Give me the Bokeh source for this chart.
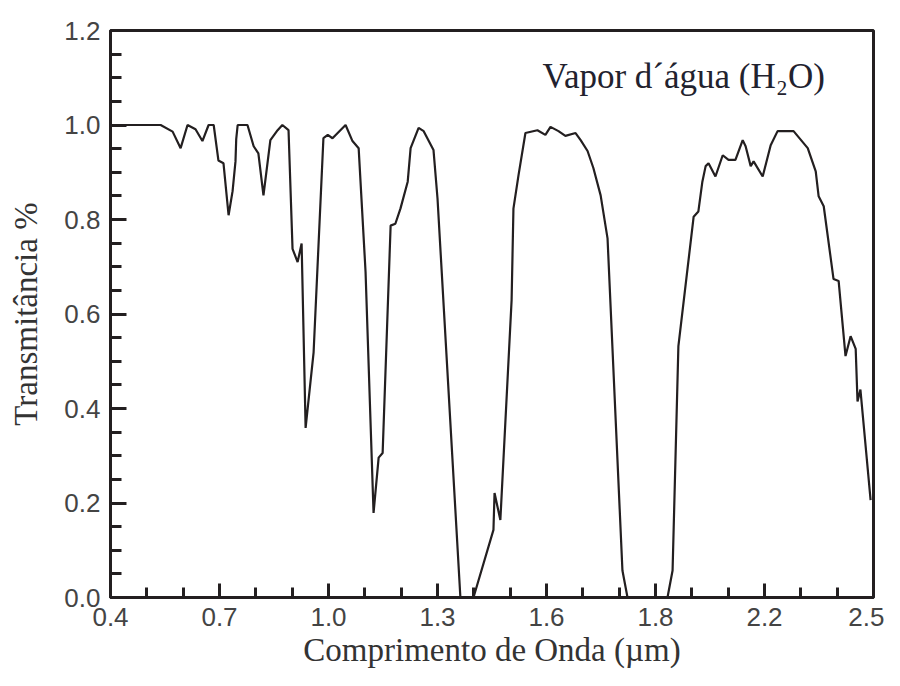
from bokeh.plotting import figure
from bokeh.models import Range1d, FixedTicker, Label
from bokeh.embed import file_html
from bokeh.resources import INLINE

# Wavelength (µm) and transmittance
wavelength = [0.400, 0.538, 0.571, 0.593, 0.612, 0.634, 0.653, 0.670, 0.684, 0.697,
              0.711, 0.725, 0.736, 0.744, 0.746, 0.750, 0.777, 0.794, 0.807, 0.821,
              0.840, 0.860, 0.873, 0.890, 0.901, 0.915, 0.926, 0.937, 0.959, 0.986,
              0.998, 1.011, 1.047, 1.066, 1.083, 1.102, 1.124, 1.138, 1.149, 1.171,
              1.184, 1.198, 1.218, 1.226, 1.248, 1.262, 1.289, 1.300, 1.363, 1.399,
              1.454, 1.457, 1.473, 1.504, 1.509, 1.523, 1.542, 1.575, 1.597, 1.611,
              1.633, 1.652, 1.680, 1.694, 1.713, 1.729, 1.749, 1.768, 1.809, 1.823,
              1.933, 1.947, 1.963, 2.005, 2.018, 2.029, 2.038, 2.046, 2.065, 2.085,
              2.101, 2.120, 2.140, 2.148, 2.162, 2.170, 2.195, 2.217, 2.236, 2.280,
              2.319, 2.341, 2.349, 2.363, 2.390, 2.404, 2.423, 2.437, 2.451, 2.456,
              2.464, 2.492]
transmittance = [1.000, 1.000, 0.986, 0.951, 1.000, 0.991, 0.966, 1.000, 1.000, 0.925,
                 0.919, 0.809, 0.860, 0.923, 0.970, 1.000, 1.000, 0.955, 0.940, 0.851,
                 0.968, 0.989, 1.000, 0.989, 0.738, 0.710, 0.749, 0.359, 0.519, 0.972,
                 0.979, 0.972, 1.000, 0.966, 0.951, 0.689, 0.179, 0.296, 0.306, 0.787,
                 0.791, 0.823, 0.880, 0.951, 0.994, 0.987, 0.947, 0.845, 0.000, 0.000,
                 0.143, 0.221, 0.164, 0.630, 0.823, 0.894, 0.983, 0.989, 0.979, 0.996,
                 0.987, 0.977, 0.983, 0.968, 0.945, 0.909, 0.851, 0.760, 0.057, 0.000,
                 0.000, 0.057, 0.532, 0.806, 0.817, 0.880, 0.913, 0.919, 0.891, 0.936,
                 0.926, 0.926, 0.968, 0.955, 0.913, 0.923, 0.891, 0.957, 0.987, 0.987,
                 0.951, 0.902, 0.849, 0.828, 0.674, 0.670, 0.511, 0.553, 0.526, 0.415,
                 0.440, 0.206]

x_ticks = [0.4, 0.7, 1.0, 1.3, 1.6, 1.9, 2.2, 2.5]
x_tick_labels = ["0.4", "0.7", "1.0", "1.3", "1.6", "1.8", "2.2", "2.5"]
x_minor = [0.5, 0.6, 0.8, 0.9, 1.1, 1.2, 1.4, 1.5, 1.7, 1.8, 2.0, 2.1, 2.3, 2.4]
y_ticks = [0.0, 0.2, 0.4, 0.6, 0.8, 1.0, 1.2]
y_tick_labels = ["0.0", "0.2", "0.4", "0.6", "0.8", "1.0", "1.2"]
y_minor = [0.05, 0.1, 0.15, 0.25, 0.3, 0.35, 0.45, 0.5, 0.55, 0.65, 0.7, 0.75,
           0.85, 0.9, 0.95, 1.05, 1.1, 1.15]

title_text = "Vapor d´água (H₂O)"
x_label = "Comprimento de Onda (µm)"
y_label = "Transmitância %"

INK = "#231f20"

p = figure(width=884, height=670, output_backend="svg", toolbar_location=None,
           x_range=Range1d(0.4, 2.5), y_range=Range1d(0.0, 1.2),
           min_border_left=110, min_border_right=11, min_border_top=30,
           min_border_bottom=60)
p.background_fill_color = "white"
p.border_fill_color = "white"
p.grid.visible = False
p.outline_line_color = INK
p.outline_line_width = 3

p.line(wavelength, transmittance, line_color=INK, line_width=2.2)

for ax in (p.xaxis[0], p.yaxis[0]):
    ax.axis_line_color = INK
    ax.axis_line_width = 3
    ax.major_tick_line_color = INK
    ax.minor_tick_line_color = INK
    ax.major_tick_line_width = 3
    ax.minor_tick_line_width = 3
    ax.major_tick_out = 0
    ax.minor_tick_out = 0
    ax.major_label_text_font = "Liberation Sans"
    ax.major_label_text_font_size = "26px"
    ax.major_label_text_color = "#444444"
    ax.axis_label_text_font = "Liberation Serif"
    ax.axis_label_text_font_size = "33px"
    ax.axis_label_text_font_style = "normal"
    ax.axis_label_text_color = "#333333"

xa = p.xaxis[0]
xa.ticker = FixedTicker(ticks=x_ticks, minor_ticks=x_minor)
xa.major_label_overrides = dict(zip(x_ticks, x_tick_labels))
xa.major_tick_in = 14
xa.minor_tick_in = 10
xa.major_label_standoff = 10
xa.axis_label = x_label
xa.axis_label_standoff = 3

ya = p.yaxis[0]
ya.ticker = FixedTicker(ticks=y_ticks, minor_ticks=y_minor)
ya.major_label_overrides = dict(zip(y_ticks, y_tick_labels))
ya.major_tick_in = 16
ya.minor_tick_in = 11
ya.major_label_standoff = 10
ya.axis_label = y_label
ya.axis_label_standoff = 17

p.add_layout(Label(x=1.589, y=1.103, text=title_text, text_font="Liberation Serif",
                   text_font_size="35px", text_color="#22222e",
                   text_baseline="middle", text_align="left"))

open("out.html", "w").write(file_html(p, INLINE))
